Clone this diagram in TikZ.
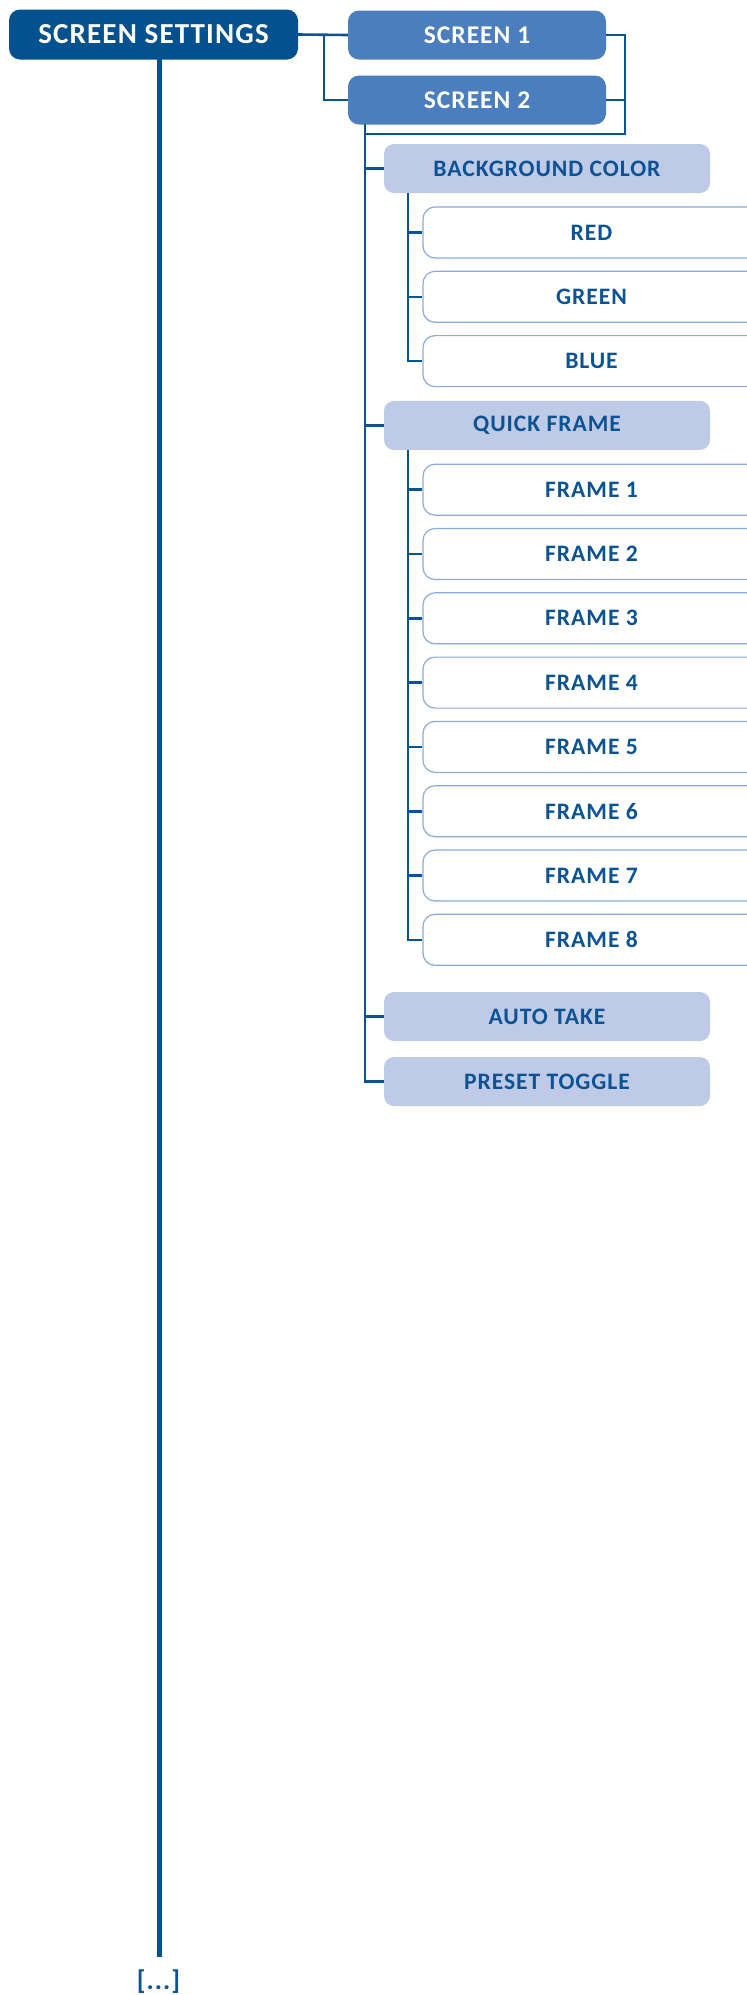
\documentclass[tikz,border=0pt]{standalone}
\usepackage{fontspec}
\newfontfamily\lab{Carlito}[LetterSpace=4]
\definecolor{dblue}{HTML}{04518F}
\definecolor{mblue}{HTML}{4A7EBF}
\definecolor{lblue}{HTML}{BFCAE6}
\definecolor{bord}{HTML}{8EA9DB}
\definecolor{txt}{HTML}{0B5394}
\definecolor{lnc}{HTML}{0B5394}
\tikzset{
  base/.style={rounded corners=11pt, inner sep=0pt, text=txt, font=\lab\bfseries\fontsize{23.6}{24}\selectfont},
  topbox/.style={base, fill=dblue, text=white, minimum width=289pt, minimum height=50pt, font=\lab\bfseries\fontsize{29}{29}\selectfont},
  scrbox/.style={base, fill=mblue, text=white, minimum width=258pt, minimum height=49pt, font=\lab\bfseries\fontsize{25.5}{26}\selectfont},
  lvtwo/.style={base, fill=lblue, minimum width=326pt, minimum height=49pt, rounded corners=10pt},
  lvthree/.style={base, fill=white, draw=bord, line width=1.2pt, minimum width=337pt, minimum height=51pt, rounded corners=12pt},
  conn/.style={draw=lnc, line width=2.6pt},
  mainline/.style={draw=dblue, line width=5pt},
}
\begin{document}
\begin{tikzpicture}[x=1pt,y=-1pt]
\useasboundingbox (0,0) rectangle (747,1995);
\clip (0,0) rectangle (747,1995);
% top level
\node[topbox] (ss) at (153.5,34.5) {SCREEN SETTINGS};
\node[scrbox] (s1) at (477,35) {SCREEN 1};
\node[scrbox] (s2) at (477,100) {SCREEN 2};
% level 2
\node[lvtwo] (bg) at (547,168.5) {BACKGROUND COLOR};
\node[lvthree] (red) at (591.5,232.5) {RED};
\node[lvthree] (green) at (591.5,296.8) {GREEN};
\node[lvthree] (blue) at (591.5,361.1) {BLUE};
\node[lvtwo] (qf) at (547,425.4) {QUICK FRAME};
\foreach \i in {1,...,8}{
  \node[lvthree] (f\i) at (591.5,{489.7+(\i-1)*64.3}) {FRAME \i};
}
\node[lvtwo] (at) at (547,1016.5) {AUTO TAKE};
\node[lvtwo] (pt) at (547,1081.5) {PRESET TOGGLE};
% connectors top
\coordinate (b1) at (324,35);
\coordinate (rb) at (625,134);
\coordinate (v2) at (365,124);
\draw[conn] (ss.east) -- (s1.west);
\draw[conn] (b1) |- (s2.west);
\draw[conn] (s1.east) -| (rb) -- (v2 |- rb);
\draw[conn] (s2.east) -- (s2.east -| rb);
% level 2 spine
\draw[conn] (v2) |- (pt.west);
\foreach \n in {bg,qf,at}{
  \draw[conn] (v2 |- \n.west) -- (\n.west);
}
% level 3 spines
\coordinate (v3a) at (408,193);
\draw[conn] (v3a) |- (blue.west);
\foreach \n in {red,green}{
  \draw[conn] (v3a |- \n.west) -- (\n.west);
}
\coordinate (v3b) at (408,450);
\draw[conn] (v3b) |- (f8.west);
\foreach \i in {1,...,7}{
  \draw[conn] (v3b |- f\i.west) -- (f\i.west);
}
% main line
\coordinate (mtop) at (159.5,59);
\coordinate (mbot) at (159.5,1957);
\draw[mainline] (mtop) -- (mbot);
\node[font=\lab\bfseries\fontsize{27}{27}\selectfont, text=txt, inner sep=0pt] (more) at (158.5,1982) {[...]};
\end{tikzpicture}
\end{document}
